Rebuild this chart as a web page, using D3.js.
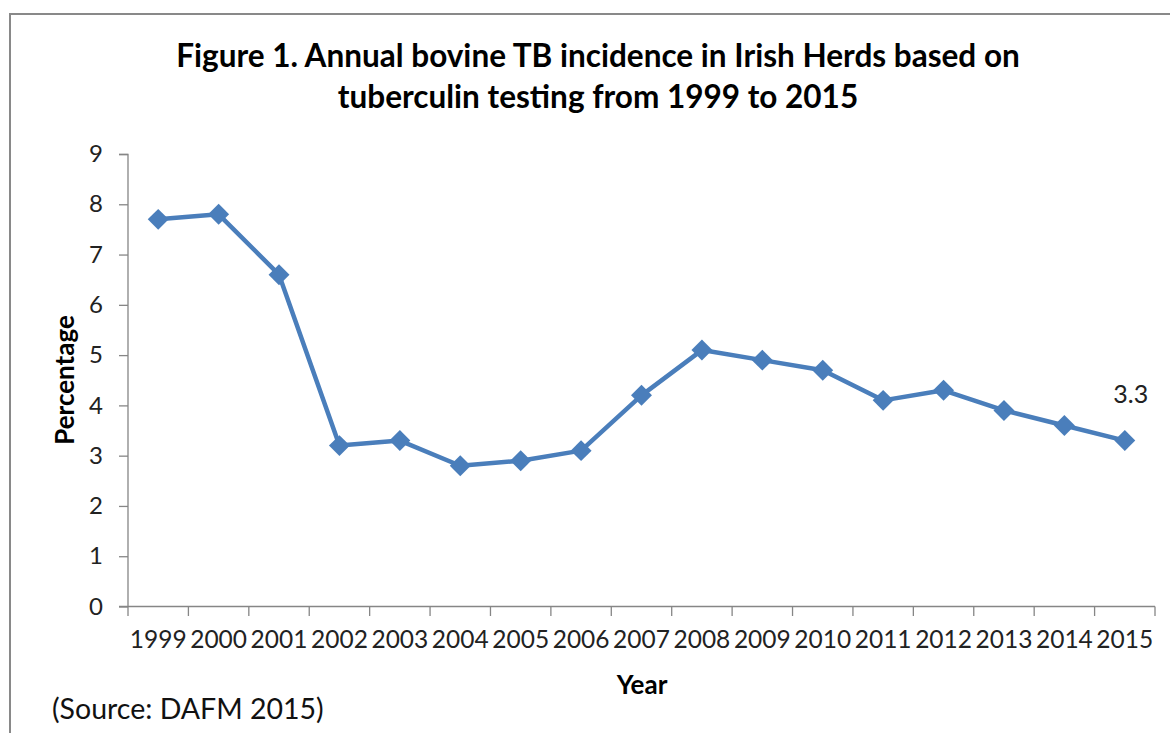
<!DOCTYPE html>
<html><head><meta charset="utf-8">
<script src="https://cdn.jsdelivr.net/npm/d3@7"></script>
<style>body{margin:0;background:#fff}svg{display:block}</style>
</head><body>
<svg id="c" width="1170" height="733"></svg>
<script>
const years = ["1999","2000","2001","2002","2003","2004","2005","2006","2007","2008","2009","2010","2011","2012","2013","2014","2015"];
const values = [7.7,7.8,6.6,3.2,3.3,2.8,2.9,3.1,4.2,5.1,4.9,4.7,4.1,4.3,3.9,3.6,3.3];
const yTicks = [0,1,2,3,4,5,6,7,8,9];
const titleLines = ["Figure 1. Annual bovine TB incidence in Irish Herds based on","tuberculin testing from 1999 to 2015"];

const svg = d3.select("#c");
const font = "Lato, 'Open Sans', sans-serif";
// frame
svg.append("rect").attr("x",10).attr("y",14).attr("width",1170).attr("height",740)
  .attr("fill","none").attr("stroke","#898989").attr("stroke-width",2);

const x = d3.scaleBand().domain(years).range([128,1155]);
const y = d3.scaleLinear().domain([0,9]).range([606.5,154]);

// title
const t = svg.append("g");
titleLines.forEach((s,i)=>{
  t.append("text").attr("x",598).attr("y",67+i*41).attr("text-anchor","middle")
    .attr("font-family",font).attr("font-weight","bold").attr("font-size",28).attr("fill","#000").text(s);
});
const w0 = t.select("text").node().getComputedTextLength();
t.selectAll("text").attr("font-size",28*844/w0);

// y axis
const ya = svg.append("g").attr("transform","translate(128,0)")
  .call(d3.axisLeft(y).tickValues(yTicks).tickSize(9).tickPadding(16).tickFormat(d3.format("d")));
ya.select(".domain").attr("stroke","#868686").attr("stroke-width",1.3).attr("d","M-9,154.5H0V606.5");
ya.selectAll(".tick line").attr("stroke","#868686").attr("stroke-width",1.3);
ya.selectAll(".tick text").attr("font-family",font).attr("font-size",24).attr("fill","#222");

// x axis
const xa = svg.append("g").attr("transform","translate(0,606.5)")
  .call(d3.axisBottom(x).tickSize(0).tickPadding(24));
xa.select(".domain").attr("stroke","#868686").attr("stroke-width",1.3).attr("d","M119,0H1155");
xa.selectAll(".tick text").attr("font-family",font).attr("font-size",24.5).attr("fill","#222");
const edges = years.map(d=>x(d)).concat([1155]);
svg.append("g").selectAll("line").data(edges).join("line")
  .attr("x1",d=>d).attr("x2",d=>d).attr("y1",606.5).attr("y2",616)
  .attr("stroke","#868686").attr("stroke-width",1.3);

// axis titles
svg.append("text").attr("x",642).attr("y",694).attr("text-anchor","middle")
  .attr("font-family",font).attr("font-weight","bold").attr("font-size",26).text("Year");
svg.append("text").attr("transform","translate(74,380) rotate(-90)").attr("text-anchor","middle")
  .attr("font-family",font).attr("font-weight","bold").attr("font-size",26).text("Percentage");

// line
const cx = d=>x(d)+x.bandwidth()/2;
const line = d3.line().x((d,i)=>cx(years[i])).y(d=>y(d));
svg.append("path").datum(values).attr("d",line).attr("fill","none")
  .attr("stroke","#4a7ebb").attr("stroke-width",4.5).attr("stroke-linejoin","round");
svg.append("g").selectAll("path").data(values).join("path")
  .attr("transform",(d,i)=>`translate(${cx(years[i])},${y(d)})`)
  .attr("d",d3.symbol().type(d3.symbolDiamond2).size(280)).attr("fill","#4a7ebb");

// data label
const last = values.length-1;
svg.append("text").attr("x",cx(years[last])+6).attr("y",y(values[last])-38).attr("text-anchor","middle")
  .attr("font-family",font).attr("font-size",25).attr("fill","#222").text(values[last]);

// source
svg.append("text").attr("x",52).attr("y",719).attr("font-family",font).attr("font-size",28.5)
  .attr("fill","#111").text("(Source: DAFM 2015)");
</script>
</body></html>
